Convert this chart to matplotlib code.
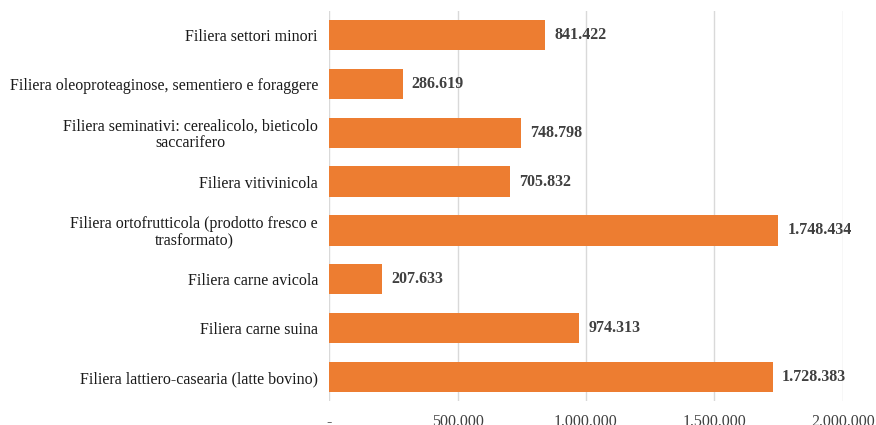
import matplotlib.pyplot as plt
import numpy as np

# dati (dal basso verso l'alto)
categorie = [
    "Filiera lattiero-casearia (latte bovino)",
    "Filiera carne suina",
    "Filiera carne avicola",
    "Filiera ortofrutticola (prodotto fresco e\ntrasformato)",
    "Filiera vitivinicola",
    "Filiera seminativi: cerealicolo, bieticolo\nsaccarifero",
    "Filiera oleoproteaginose, sementiero e foraggere",
    "Filiera settori minori",
]
valori = [1728383, 974313, 207633, 1748434, 705832, 748798, 286619, 841422]
tick_valori = [0, 500000, 1000000, 1500000, 2000000]


def fmt(v):
    if v == 0:
        return "-"
    return f"{v:,.0f}".replace(",", ".")


plt.rcParams['font.family'] = ['Liberation Serif', 'DejaVu Serif']

fig = plt.figure(figsize=(8.76, 4.25), dpi=100)
ax = fig.add_axes([0.3756, 0.0553, 0.9623 - 0.3756, 0.975 - 0.0553])

y = np.arange(len(categorie))
ax.barh(y, valori, height=0.62, color="#ED7D31", zorder=3)

for yi, v in zip(y, valori):
    ax.text(v + 35000, yi, fmt(v), va="center", ha="left",
            fontsize=11.5, fontweight="bold", color="#404040")

ax.set_ylim(-0.5, len(categorie) - 0.5)
ax.set_xlim(0, 2000000)
ax.set_yticks(y)
ax.set_yticklabels(categorie, fontsize=11.5, color="#1a1a1a")
for t in ax.get_yticklabels():
    t.set_multialignment("center")
    t.set_linespacing(1.05)
ax.set_xticks(tick_valori)
ax.set_xticklabels([fmt(v) for v in tick_valori], fontsize=11.5, color="#404040")

ax.tick_params(axis="both", length=0)
ax.tick_params(axis="y", pad=8)
ax.tick_params(axis="x", pad=9)
ax.grid(axis="x", color="#D9D9D9", linewidth=1, zorder=0)
for s in ax.spines.values():
    s.set_visible(False)

fig.savefig("out.png", dpi=100)
